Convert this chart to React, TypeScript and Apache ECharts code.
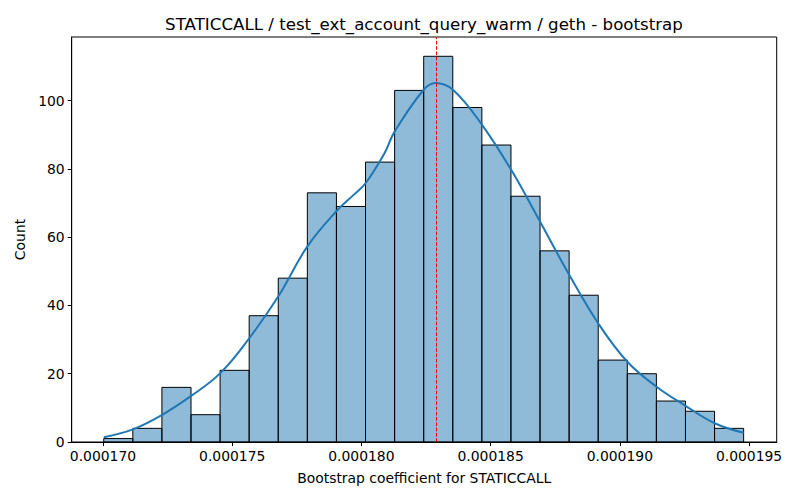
import React, { useEffect, useRef } from "react";
import * as echarts from "echarts";

// Histogram bins (x in 1e-6 units)
const binStart = 170.03;
const binWidth = 1.1255;
const counts = [1, 4, 16, 8, 21, 37, 48, 73, 69, 82, 103, 113, 98, 87, 72, 56, 43, 24, 20, 12, 9, 4];

// KDE curve points (x in 1e-6 units, y in counts)
const kdeX = [
  170.03, 171.16, 172.28, 173.41, 174.53, 175.66, 176.78, 177.91, 179.03, 179.7, 180.16,
  180.9, 181.29, 182.41, 182.87, 183.54, 184.66, 185.79, 186.91, 188.04, 189.16, 190.29, 191.42,
  192.54, 193.67, 194.79,
];
const kdeY = [
  1.4, 3.7, 7.9, 13.5, 20.1, 30.4, 42.6, 57.3, 67.6, 72.4, 75.8,
  84.7, 91.0, 103.2, 105.2, 103.2, 93.0, 79.8, 64.6, 49.0, 34.8, 23.5, 16.2,
  10.6, 5.5, 2.7,
];

const meanValue = 182.88;
const xTicks = [170, 175, 180, 185, 190, 195];
const yTicks = [0, 20, 40, 60, 80, 100];
const xMin = 168.79;
const xMax = 196.07;
const yMax = 118.65;

const titleText = "STATICCALL / test_ext_account_query_warm / geth - bootstrap";
const xLabel = "Bootstrap coefficient for STATICCALL";
const yLabel = "Count";

export default function App() {
  const ref = useRef<HTMLDivElement>(null);
  useEffect(() => {
    if (!ref.current) return;
    const chart = echarts.init(ref.current, null, { renderer: "svg" });
    const font = "DejaVu Sans";
    const histData = counts.map((c, i) => [binStart + i * binWidth, binStart + (i + 1) * binWidth, c]);
    const kdeData = kdeX.map((x, i) => [x, kdeY[i]]);
    chart.setOption({
      animation: false,
      backgroundColor: "#ffffff",
      textStyle: { fontFamily: font, color: "#000" },
      title: {
        text: titleText,
        left: 419,
        textAlign: "center",
        top: 9,
        textStyle: { fontFamily: font, fontSize: 16.67, fontWeight: "normal", color: "#000", lineHeight: 20 },
      },
      grid: {
        left: 71.7,
        right: 23.3,
        top: 37,
        bottom: 58,
        show: true,
        borderColor: "#000",
        borderWidth: 1,
        backgroundColor: "transparent",
      },
      xAxis: {
        type: "value",
        min: xMin,
        max: xMax,
        name: xLabel,
        nameLocation: "middle",
        nameGap: 29,
        nameTextStyle: { fontFamily: font, fontSize: 13.9, color: "#000" },
        axisLine: { show: true, onZero: false, lineStyle: { color: "#000", width: 1 } },
        axisTick: { show: true, length: 4, lineStyle: { color: "#000" }, customValues: xTicks },
        axisLabel: {
          fontFamily: font,
          fontSize: 13.9,
          color: "#000",
          margin: 7,
          customValues: xTicks,
          formatter: (v: number) => (v * 1e-6).toFixed(6),
        },
        splitLine: { show: false },
      },
      yAxis: {
        type: "value",
        min: 0,
        max: yMax,
        name: yLabel,
        nameLocation: "middle",
        nameGap: 45,
        nameRotate: 90,
        nameTextStyle: { fontFamily: font, fontSize: 13.9, color: "#000" },
        axisLine: { show: true, lineStyle: { color: "#000", width: 1 } },
        axisTick: { show: true, length: 4, lineStyle: { color: "#000" }, customValues: yTicks },
        axisLabel: { fontFamily: font, fontSize: 13.9, color: "#000", margin: 7, customValues: yTicks },
        splitLine: { show: false },
      },
      series: [
        {
          type: "custom",
          data: histData,
          encode: { x: [0, 1], y: 2 },
          renderItem: (params: any, api: any) => {
            const x0 = api.value(0);
            const x1 = api.value(1);
            const c = api.value(2);
            const p0 = api.coord([x0, c]);
            const p1 = api.coord([x1, 0]);
            return {
              type: "rect",
              shape: { x: p0[0], y: p0[1], width: p1[0] - p0[0], height: p1[1] - p0[1] },
              style: { fill: "rgba(31,119,180,0.5)", stroke: "#000", lineWidth: 1 },
            };
          },
          z: 1,
        },
        {
          type: "line",
          data: kdeData,
          smooth: 0.4,
          showSymbol: false,
          lineStyle: { color: "#1f77b4", width: 2 },
          z: 3,
          markLine: {
            silent: true,
            symbol: ["none", "none"],
            label: { show: false },
            lineStyle: { color: "#ff0000", type: [3.7, 1.6], width: 1 },
            data: [{ xAxis: meanValue }],
          },
        },
      ],
    });
    return () => chart.dispose();
  }, []);
  return <div ref={ref} style={{ position: "fixed", left: 0, top: 0, width: 800, height: 500 }} />;
}
